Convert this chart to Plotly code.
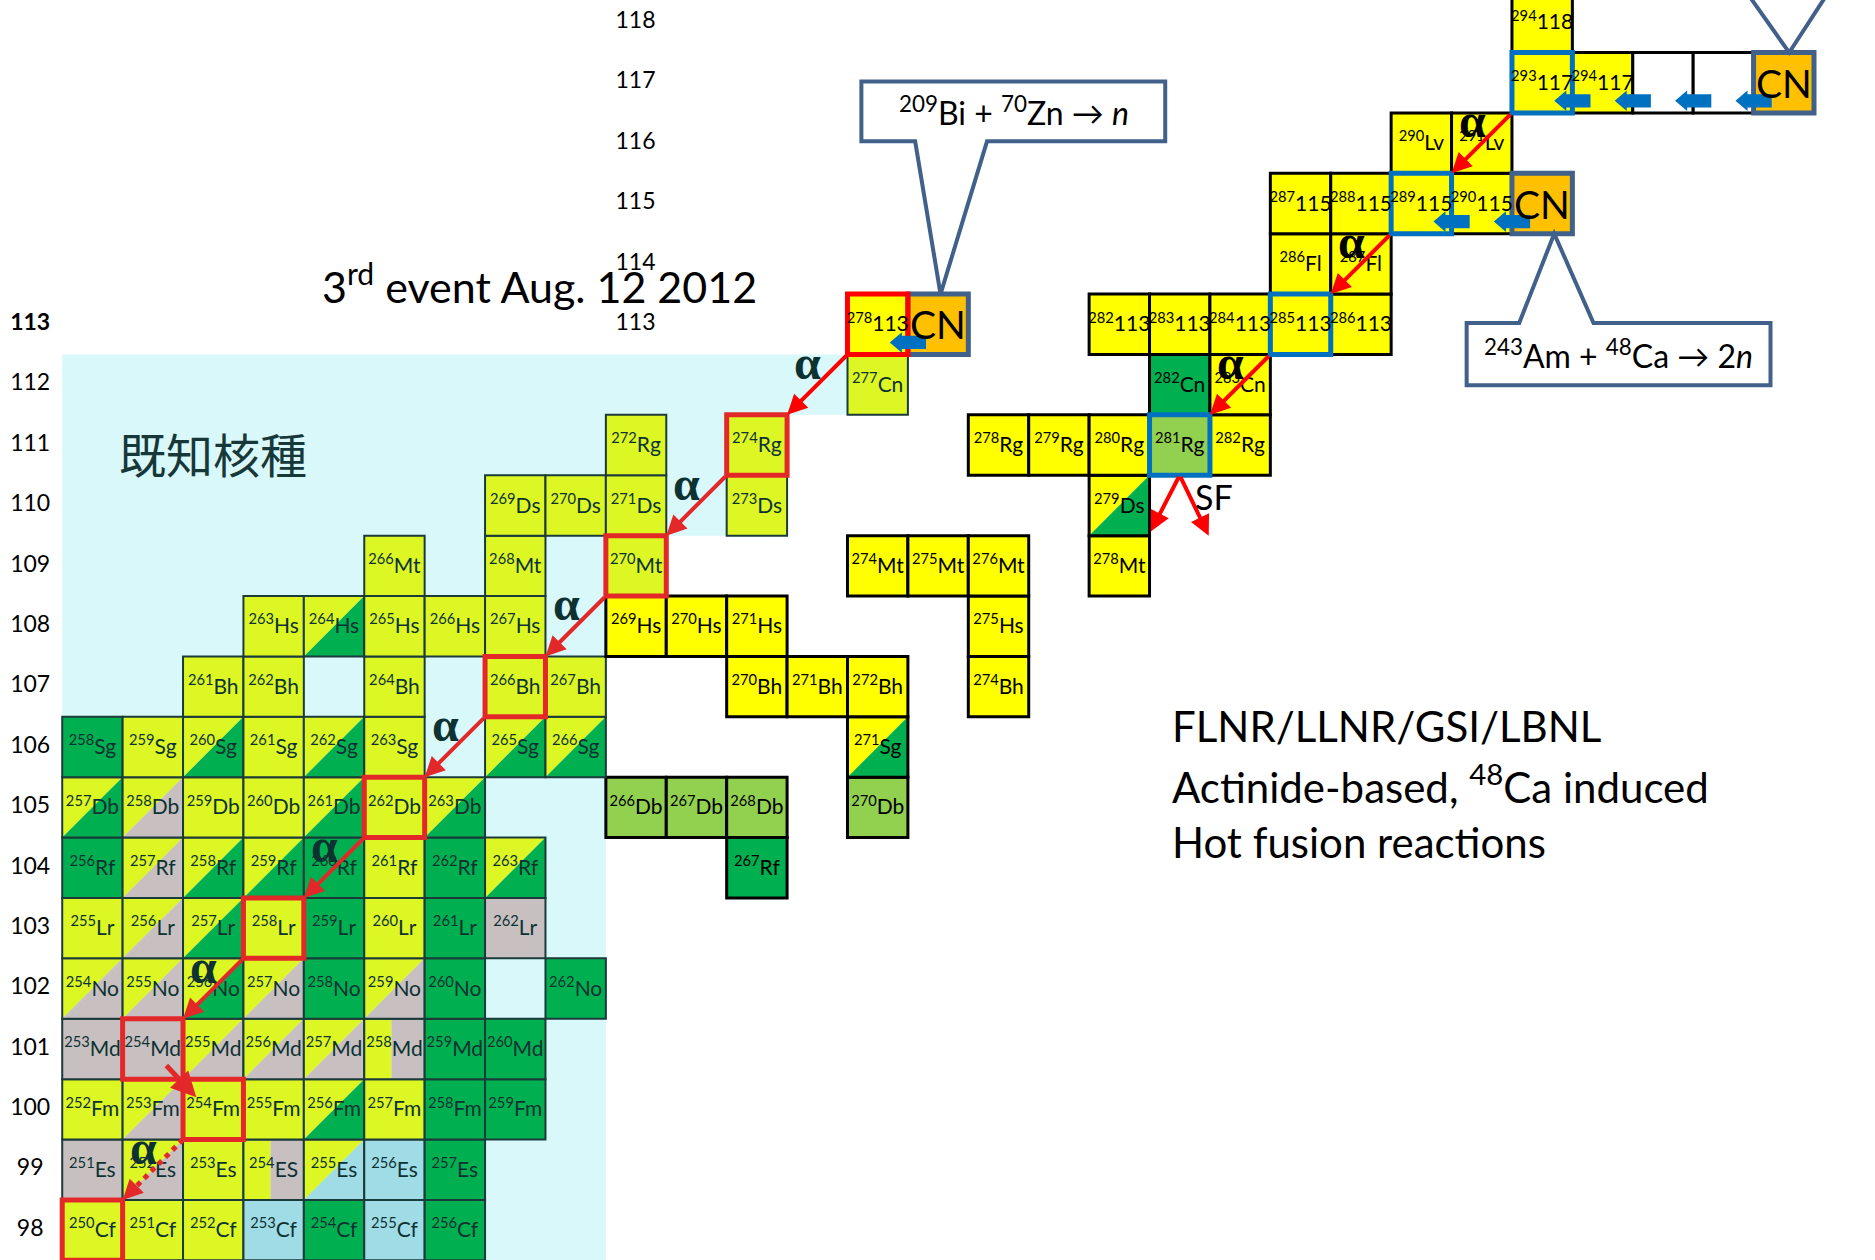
import plotly.graph_objects as go

# ---------------- palette ----------------
FILL = {
    "L": "#DCF723",   # alpha decay
    "G": "#00B050",   # spontaneous fission
    "X": "#C8BFC1",   # EC / beta+
    "B": "#9FDCE6",   # beta-
    "Y": "#FFFF00",   # new superheavy nuclides
    "P": "#92D050",   # long-lived Db / Rg
    "W": "#FFFFFF",   # empty slot
}
KNOWN_BG = "#D9F8FA"
KNOWN_EDGE = "#1B3A3A"
KNOWN_TEXT = "#0E3232"
CHAIN_RED = "#E3282A"
NEW_RED = "#FF0000"
EVAP_BLUE = "#0070C0"
SLATE = "#41608A"
CN_FILL = "#FFC000"
FONT = "Lato, 'Open Sans', sans-serif"

# ---------------- nuclides: mass numbers and decay-mode codes ----------------
# "a/b" = diagonal split (a upper-left, b lower-right), "a|b" = vertical split
cf_mass = [250, 251, 252, 253, 254, 255, 256]
cf_mode = ["L", "L", "L", "B", "G", "B", "G"]
es_mass = [251, 252, 253, 254, 255, 256, 257]
es_mode = ["X", "L/X", "L", "L|X", "L/B", "B", "G"]
fm_mass = [252, 253, 254, 255, 256, 257, 258, 259]
fm_mode = ["L", "L/X", "L", "L", "L/G", "L", "G", "G"]
md_mass = [253, 254, 255, 256, 257, 258, 259, 260]
md_mode = ["X", "X", "L/X", "L/X", "L/X", "L|X", "G", "G"]
no_mass = [254, 255, 256, 257, 258, 259, 260, 262]
no_mode = ["L/X", "L/X", "L/G", "L/X", "G", "L/X", "G", "G"]
lr_mass = [255, 256, 257, 258, 259, 260, 261, 262]
lr_mode = ["L", "L/X", "L/G", "L", "G", "L", "G", "X"]
rf_mass = [256, 257, 258, 259, 260, 261, 262, 263, 267]
rf_mode = ["G", "L/X", "L/G", "L/G", "G", "L", "G", "L/G", "G"]
db_mass = [257, 258, 259, 260, 261, 262, 263, 266, 267, 268, 270]
db_mode = ["L/G", "L/X", "L", "L", "L/G", "L", "L/G", "P", "P", "P", "P"]
sg_mass = [258, 259, 260, 261, 262, 263, 265, 266, 271]
sg_mode = ["G", "L", "L/G", "L", "L/G", "L", "L/G", "L/G", "Y/G"]
bh_mass = [261, 262, 264, 266, 267, 270, 271, 272, 274]
bh_mode = ["L", "L", "L", "L", "L", "Y", "Y", "Y", "Y"]
hs_mass = [263, 264, 265, 266, 267, 269, 270, 271, 275]
hs_mode = ["L", "L/G", "L", "L", "L", "Y", "Y", "Y", "Y"]
mt_mass = [266, 268, 270, 274, 275, 276, 278]
mt_mode = ["L", "L", "L", "Y", "Y", "Y", "Y"]
ds_mass = [269, 270, 271, 273, 279]
ds_mode = ["L", "L", "L", "L", "Y/G"]
rg_mass = [272, 274, 278, 279, 280, 281, 282]
rg_mode = ["L", "L", "Y", "Y", "Y", "P", "Y"]
cn_mass = [277, 282, 283]
cn_mode = ["L", "G", "Y"]
e113_mass = [278, 282, 283, 284, 285, 286]
e113_mode = ["Y", "Y", "Y", "Y", "Y", "Y"]
fl_mass = [286, 287]
fl_mode = ["Y", "Y"]
e115_mass = [287, 288, 289, 290]
e115_mode = ["Y", "Y", "Y", "Y"]
lv_mass = [290, 291]
lv_mode = ["Y", "Y"]
e117_mass = [293, 294, 295, 296]
e117_mode = ["Y", "Y", "W", "W"]
e118_mass = [294]
e118_mode = ["Y"]

ELEMENTS = [
    (98, "Cf", cf_mass, cf_mode), (99, "Es", es_mass, es_mode),
    (100, "Fm", fm_mass, fm_mode), (101, "Md", md_mass, md_mode),
    (102, "No", no_mass, no_mode), (103, "Lr", lr_mass, lr_mode),
    (104, "Rf", rf_mass, rf_mode), (105, "Db", db_mass, db_mode),
    (106, "Sg", sg_mass, sg_mode), (107, "Bh", bh_mass, bh_mode),
    (108, "Hs", hs_mass, hs_mode), (109, "Mt", mt_mass, mt_mode),
    (110, "Ds", ds_mass, ds_mode), (111, "Rg", rg_mass, rg_mode),
    (112, "Cn", cn_mass, cn_mode), (113, "113", e113_mass, e113_mode),
    (114, "Fl", fl_mass, fl_mode), (115, "115", e115_mass, e115_mode),
    (116, "Lv", lv_mass, lv_mode), (117, "117", e117_mass, e117_mode),
    (118, "118", e118_mass, e118_mode),
]
SYMBOL_OVERRIDE = {(99, 254): "ES"}

# proton-number labels
left_z_labels = list(range(98, 114))
right_z_labels = list(range(113, 119))

# known-nuclide region: (highest row, right edge in N) for each step
known_area_steps = [(109, 160.5), (111, 163.5), (112, 164.5)]

# decay chains (Z, A)
chain_113 = [(113, 278), (111, 274), (109, 270), (107, 266), (105, 262), (103, 258), (101, 254)]
ec_step = [(101, 254), (100, 254)]
alpha_tentative = [(100, 254), (98, 250)]
chain_117 = [(117, 293), (115, 289), (113, 285), (111, 281)]
sf_end = (111, 281)

# compound nuclei (Z, A_CN, A_residue)
compound = [(113, 279, 278), (115, 291, 289), (117, 297, 293)]


def nn(z, a):
    return a - z


shapes = []
annotations = []


def rect(x0, y0, x1, y1, fill, edge=None, width=0):
    shapes.append(dict(type="rect", xref="x", yref="y", x0=x0, y0=y0, x1=x1, y1=y1,
                       fillcolor=fill, layer="below",
                       line=dict(color=edge or "rgba(0,0,0,0)", width=width)))


def poly(pts, fill, edge=None, width=0, close=True):
    d = "M" + " L".join(f"{x:.4f},{y:.4f}" for x, y in pts) + (" Z" if close else "")
    shapes.append(dict(type="path", xref="x", yref="y", path=d, fillcolor=fill, layer="below",
                       line=dict(color=edge or "rgba(0,0,0,0)", width=width)))


# known-nuclide background
pts = [(151.5, 97.5)]
y_prev = 97.5
for ztop, xr in known_area_steps:
    pts += [(xr, y_prev), (xr, ztop + 0.5)]
    y_prev = ztop + 0.5
pts.append((151.5, y_prev))
poly(pts, KNOWN_BG)

# nuclide cells
txt_x, txt_y, txt, txt_col = [], [], [], []
for z, sym, masses, modes in ELEMENTS:
    for a, m in zip(masses, modes):
        n = nn(z, a)
        known = any(c in m for c in "LXB") or (m == "G" and n <= 160)
        edge = KNOWN_EDGE if known else "#000000"
        lw = 2 if known else 3
        x0, x1, y0, y1 = n - 0.5, n + 0.5, z - 0.5, z + 0.5
        if "/" in m:
            p, q = m.split("/")
            poly([(x0, y0), (x0, y1), (x1, y1)], FILL[p])
            poly([(x0, y0), (x1, y1), (x1, y0)], FILL[q])
        elif "|" in m:
            p, q = m.split("|")
            rect(x0, y0, x0 + 0.45, y1, FILL[p])
            rect(x0 + 0.45, y0, x1, y1, FILL[q])
        else:
            rect(x0, y0, x1, y1, FILL[m])
        rect(x0, y0, x1, y1, "rgba(0,0,0,0)", edge, lw)
        if m != "W":
            txt_x.append(n)
            txt_y.append(z - 0.03)
            txt.append(f"<sup>{a}</sup>{SYMBOL_OVERRIDE.get((z, a), sym)}")
            txt_col.append(KNOWN_TEXT if known else "#000000")

# compound-nucleus cells
for z, a_cn, a_res in compound:
    n = nn(z, a_cn)
    rect(n - 0.5, z - 0.5, n + 0.5, z + 0.5, CN_FILL, SLATE, 5)
    annotations.append(dict(x=n, y=z, xref="x", yref="y", text="CN", showarrow=False,
                            font=dict(family=FONT, size=39, color="#000000")))

# highlighted chains
for z, a in chain_113 + alpha_tentative[1:]:
    n = nn(z, a)
    col = NEW_RED if z == 113 else CHAIN_RED
    rect(n - 0.5, z - 0.5, n + 0.5, z + 0.5, "rgba(0,0,0,0)", col, 5)
for z, a in ec_step[1:]:
    n = nn(z, a)
    rect(n - 0.5, z - 0.5, n + 0.5, z + 0.5, "rgba(0,0,0,0)", CHAIN_RED, 5)
for z, a in chain_117:
    n = nn(z, a)
    rect(n - 0.5, z - 0.5, n + 0.5, z + 0.5, "rgba(0,0,0,0)", EVAP_BLUE, 5)

# neutron-evaporation arrows (one per emitted neutron)
for z, a_cn, a_res in compound:
    yc = z - 0.30
    for n in range(nn(z, a_cn), nn(z, a_res), -1):
        tip, tail = n - 0.80, n - 0.20
        hl, hh, bh = 0.20, 0.17, 0.11
        poly([(tip, yc), (tip + hl, yc + hh), (tip + hl, yc + bh), (tail, yc + bh),
              (tail, yc - bh), (tip + hl, yc - bh), (tip + hl, yc - hh)], EVAP_BLUE)

# reaction callouts
poly([(164.73, 117.02), (169.76, 117.02), (169.76, 116.03), (166.81, 116.03),
      (166.04, 113.5), (165.62, 116.03), (164.73, 116.03)], "#FFFFFF", SLATE, 4)
annotations.append(dict(x=167.25, y=116.53, xref="x", yref="y", showarrow=False,
                        text="<sup>209</sup>Bi + <sup>70</sup>Zn → <i>n</i>",
                        font=dict(family=FONT, size=32, color="#000000")))
poly([(174.75, 111.99), (174.75, 113.02), (175.62, 113.02), (176.2, 114.5),
      (176.85, 113.02), (179.78, 113.02), (179.78, 111.99)], "#FFFFFF", SLATE, 4)
annotations.append(dict(x=177.26, y=112.5, xref="x", yref="y", showarrow=False,
                        text="<sup>243</sup>Am + <sup>48</sup>Ca → 2<i>n</i>",
                        font=dict(family=FONT, size=32, color="#000000")))
poly([(179.1, 118.9), (180.09, 117.5), (181.0, 118.9)], "rgba(0,0,0,0)", SLATE, 4, close=False)


def arrow(hx, hy, tx, ty, col, width=4, size=1.0):
    annotations.append(dict(x=hx, y=hy, ax=tx, ay=ty, xref="x", yref="y", axref="x", ayref="y",
                            text="", showarrow=True, arrowhead=2, arrowsize=size,
                            arrowwidth=width, arrowcolor=col, standoff=0))


def alpha_label(x, y, col):
    annotations.append(dict(x=x, y=y, xref="x", yref="y", showarrow=False, text="<b>α</b>",
                            font=dict(family="'Liberation Serif', serif", size=48, color=col)))


# alpha-decay arrows
for chain, col, lab in [(chain_113, CHAIN_RED, KNOWN_TEXT), (chain_117, NEW_RED, "#000000")]:
    for (z1, a1), (z2, a2) in zip(chain[:-1], chain[1:]):
        sx, sy = nn(z1, a1) - 0.5, z1 - 0.5
        arrow(nn(z2, a2) + 0.5, z2 + 0.5, sx, sy, NEW_RED if z1 == 113 or col == NEW_RED else col)
        alpha_label(sx - 0.66, sy - 0.13, lab)

# electron capture 254Md -> 254Fm
(z1, a1), (z2, a2) = ec_step
arrow(nn(z2, a2) - 0.28, z2 + 0.2, nn(z1, a1) + 0.2, z1 - 0.25, CHAIN_RED, width=5, size=1.0)

# tentative alpha decay 254Fm -> 250Cf (dotted)
(z1, a1), (z2, a2) = alpha_tentative
sx, sy = nn(z1, a1) - 0.5, z1 - 0.5
hx, hy = nn(z2, a2) + 0.5, z2 + 0.5
shapes.append(dict(type="line", xref="x", yref="y", x0=sx, y0=sy, x1=hx + 0.12, y1=hy + 0.12,
                   line=dict(color=CHAIN_RED, width=5, dash="dot"), layer="above"))
arrow(hx, hy, hx + 0.14, hy + 0.14, CHAIN_RED)
alpha_label(sx - 0.66, sy - 0.14, KNOWN_TEXT)

# spontaneous fission of 281Rg
z, a = sf_end
n = nn(z, a)
arrow(n - 0.48, z - 1.43, n, z - 0.5, NEW_RED)
arrow(n + 0.48, z - 1.50, n, z - 0.5, NEW_RED)
annotations.append(dict(x=n + 0.22, y=z - 0.85, xref="x", yref="y", showarrow=False, text="SF",
                        xanchor="left", font=dict(family=FONT, size=34, color="#000000")))

# free text
annotations.append(dict(x=159.40, y=113.68, xref="x", yref="y", showarrow=False,
                        text="3<sup>rd</sup> event Aug. 12 2012",
                        font=dict(family=FONT, size=43, color="#000000")))
annotations.append(dict(x=154.0, y=110.88, xref="x", yref="y", showarrow=False, text="既知核種",
                        font=dict(family="'Noto Sans CJK JP', sans-serif", size=47, color="#173838")))
for i, line in enumerate(["FLNR/LLNR/GSI/LBNL",
                          "Actinide-based, <sup>48</sup>Ca induced",
                          "Hot fusion reactions"]):
    annotations.append(dict(x=169.84, y=106.34 - 0.96 * i, xref="x", yref="y", showarrow=False,
                            xanchor="left", text=line,
                            font=dict(family=FONT, size=42, color="#000000")))

fig = go.Figure()

# nuclide labels
fig.add_trace(go.Scatter(x=txt_x, y=txt_y, mode="text", text=txt, hoverinfo="skip",
                         textfont=dict(family=FONT, size=21, color=txt_col), showlegend=False))

# proton-number columns
fig.add_trace(go.Scatter(x=[150.97] * len(left_z_labels), y=left_z_labels, mode="text",
                         text=[f"<b>{z}</b>" if z == 113 else str(z) for z in left_z_labels],
                         textfont=dict(family=FONT, size=23, color="#000000"),
                         hoverinfo="skip", showlegend=False))
fig.add_trace(go.Scatter(x=[160.99] * len(right_z_labels), y=right_z_labels, mode="text",
                         text=[str(z) for z in right_z_labels],
                         textfont=dict(family=FONT, size=23, color="#000000"),
                         hoverinfo="skip", showlegend=False))

fig.update_layout(
    width=1875, height=1260, autosize=False,
    margin=dict(l=0, r=0, t=0, b=0, pad=0),
    paper_bgcolor="#FFFFFF", plot_bgcolor="#FFFFFF",
    xaxis=dict(range=[150.47, 181.51], visible=False, fixedrange=True),
    yaxis=dict(range=[97.505, 118.37], visible=False, fixedrange=True),
    shapes=shapes, annotations=annotations, showlegend=False,
)

fig.write_html("out.html")
